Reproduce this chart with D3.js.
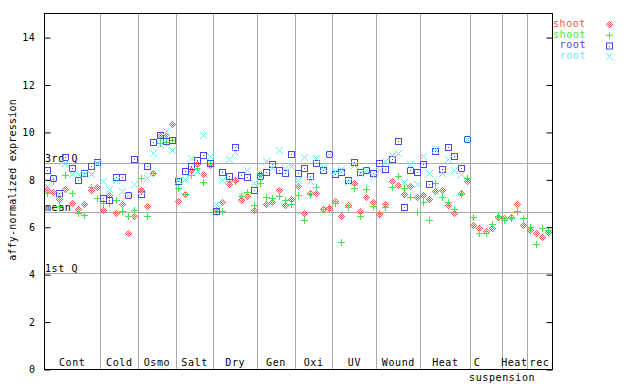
<!DOCTYPE html>
<html>
<head>
<meta charset="utf-8">
<script src="https://cdn.jsdelivr.net/npm/d3@7"></script>
<style>
  body { margin: 0; background: #fff; }
  text { font-family: "DejaVu Sans Mono", monospace; font-size: 10px; letter-spacing: 0.6px; }
</style>
</head>
<body>
<div id="chart"></div>
<script>
// groups along the x axis (number of samples in each)
var groupNames = ["Cont", "Cold", "Osmo", "Salt", "Dry", "Gen", "Oxi", "UV", "Wound", "Heat", "C suspension", "Heat", "rec"];
var groupSizes = [9, 6, 6, 6, 7, 6, 6, 7, 7, 8, 5, 4, 4];

var yTicks = [0, 2, 4, 6, 8, 10, 12, 14];

// reference lines
var refNames = ["3rd Q", "mean", "1st Q"];
var refValues = [8.675, 6.61, 4.06];

// series values, one per sample
var shootRed = [7.55, 7.45, 7.13, 7.58, 7.00, 6.71, 6.92, 7.55, 7.64,
  6.67, 7.33, 6.57, 6.96, 5.72, 6.42,
  7.55, 6.87, 8.25, 9.80, 9.91, 10.32,
  7.08, 7.38, 8.36, 8.64, 8.22, 8.6,
  6.7, 7.03, 7.79, 7.94, 7.11, 7.28, 6.69,
  8.22, 6.94, 7.03, 7.51, 6.90, 7.15,
  7.70, 6.56, 7.42, 7.42, 6.72, 6.78,
  7.06, 6.42, 6.90, 7.82, 6.66, 7.24, 7.04,
  6.52, 6.94, 7.89, 7.74, 7.37, 7.70, 7.24,
  7.32, 7.15, 7.49, 7.53, 6.90, 6.56, 7.42, 7.90,
  6.06, 5.93, 5.80, 5.93, 6.38,
  6.34, 6.40, 6.94, 6.06,
  5.83, 5.72, 5.55, 5.76];

var shootGreen = [7.40, 7.89, 6.85, 8.18, 7.41, 6.57, 6.48, 7.66, 7.21,
  6.98, 7.0, 7.11, 6.65, 6.42, 6.69,
  8.04, 6.42, 8.25, 9.52, 9.55, 9.64,
  7.62, 7.36, 8.18, 8.46, 7.87, 8.66,
  6.63, 6.63, 7.91, 7.93, 7.27, 7.46, 6.90,
  7.83, 7.24, 7.18, 7.27, 7.11, 6.96,
  7.32, 6.28, 7.35, 7.66, 6.72, 6.82,
  6.99, 5.34, 6.82, 7.62, 6.42, 7.58, 6.86,
  6.56, 6.82, 7.66, 8.11, 7.62, 7.24, 6.61,
  7.01, 6.28, 7.83, 7.24, 7.04, 6.73, 7.38, 8.04,
  6.40, 5.72, 5.72, 6.10, 6.42,
  6.28, 6.33, 6.66, 6.34,
  5.97, 5.26, 5.93, 5.86];

var rootBlue = [8.39, 8.04, 7.39, 8.93, 8.46, 7.94, 8.25, 8.54, 8.72,
  7.20, 7.11, 8.08, 8.08, 7.31, 8.84,
  7.37, 8.56, 9.54, 9.84, 9.59, 9.64,
  7.90, 8.35, 8.56, 8.81, 9.01, 8.67,
  6.66, 8.29, 8.11, 9.35, 8.17, 8.08, 7.55,
  8.11, 8.29, 8.63, 8.38, 8.25, 9.05,
  8.25, 8.46, 8.12, 8.67, 8.37, 9.05,
  8.22, 8.29, 7.96, 8.71, 8.28, 8.39, 8.25,
  8.67, 8.42, 8.84, 9.60, 6.82, 8.38, 8.29,
  8.63, 7.79, 9.16, 8.42, 9.35, 8.97, 8.46, 9.68];

var rootCyan = [7.69, 8.03, 7.38, 8.68, 8.22, 8.22, 8.2, 8.22, 8.67,
  7.91, 7.58, 7.96, 7.49, 7.3, 7.79,
  7.55, 8.04, 9.07, 9.45, 10.02, 9.22,
  7.95, 8.0, 8.88, 8.35, 9.83, 8.98,
  6.92, 7.94, 8.84, 9.14, 7.27, 8.39, 7.83,
  8.14, 8.76, 8.45, 9.22, 8.46, 8.53,
  7.96, 8.93, 7.89, 8.88, 8.52, 9.05,
  8.34, 8.42, 7.87, 8.57, 8.25, 8.36, 8.11,
  8.36, 8.74, 8.99, 9.09, 7.87, 8.64, 7.79,
  8.98, 8.25, 9.26, 8.25, 8.84, 8.36, 8.21, 9.68];

var seriesNames = ["shoot", "shoot", "root", "root"];

var svgWidth = 640;
var svgHeight = 384;
var margin = { top: 13.4, right: 88, bottom: 15, left: 44 };
var plotRight = svgWidth - margin.right;   // 552
var plotBottom = svgHeight - margin.bottom; // 369

var nSamples = d3.sum(groupSizes);

var svg = d3.select("#chart")
  .append("svg")
  .attr("width", svgWidth)
  .attr("height", svgHeight);

var x = d3.scaleLinear().domain([0, nSamples]).range([margin.left, plotRight]);
var y = d3.scaleLinear().domain([0, 15]).range([plotBottom, margin.top]);

var grey = "#aaaaaa";

// group boundaries
var bounds = [];
var acc = 0;
groupSizes.forEach(function(s) { acc += s; bounds.push(acc); });

svg.append("g").selectAll("line")
  .data(bounds.slice(0, -1))
  .enter()
  .append("line")
  .attr("x1", d => Math.round(x(d)) + 0.5)
  .attr("x2", d => Math.round(x(d)) + 0.5)
  .attr("y1", y(15))
  .attr("y2", plotBottom)
  .attr("stroke", grey);

// reference lines + labels
svg.append("g").selectAll("line")
  .data(refValues)
  .enter()
  .append("line")
  .attr("x1", margin.left)
  .attr("x2", plotRight)
  .attr("y1", d => Math.round(y(d)) + 0.5)
  .attr("y2", d => Math.round(y(d)) + 0.5)
  .attr("stroke", grey);

svg.append("g").selectAll("text")
  .data(refValues)
  .enter()
  .append("text")
  .attr("x", margin.left + 1)
  .attr("y", d => Math.round(y(d)) - 1)
  .text((d, i) => refNames[i]);

// pixel-style markers
function pixels(test) {
  var p = "";
  for (var dy = -3; dy <= 3; dy++) {
    for (var dx = -3; dx <= 3; dx++) {
      if (test(dx, dy)) p += "M" + dx + "," + dy + "h1v1h-1z";
    }
  }
  return p;
}
var shapes = [
  pixels((dx, dy) => { var m = Math.abs(dx) + Math.abs(dy); return m === 1 || m === 3; }),
  pixels((dx, dy) => dx === 0 || dy === 0),
  pixels((dx, dy) => Math.max(Math.abs(dx), Math.abs(dy)) === 3 || (dx === 0 && dy === 0)),
  pixels((dx, dy) => Math.abs(dx) === Math.abs(dy))
];
var colors = ["#ff5050", "#44e844", "#4848ec", "#66eeee"];
var allSeries = [shootRed, shootGreen, rootBlue, rootCyan];

allSeries.forEach(function(values, k) {
  svg.append("g").selectAll("path")
    .data(values)
    .enter()
    .append("path")
    .attr("d", shapes[k])
    .attr("fill", colors[k])
    .attr("transform", (d, i) => `translate(${Math.floor(x(i + 0.5))},${Math.floor(y(d))})`);
});

// frame
svg.append("rect")
  .attr("x", margin.left + 0.5)
  .attr("y", Math.round(y(15)) + 0.5)
  .attr("width", plotRight - margin.left)
  .attr("height", plotBottom - Math.round(y(15)))
  .attr("fill", "none")
  .attr("stroke", "black");

// y ticks on both sides
var leftAxis = d3.axisLeft(y).tickValues(yTicks).tickSize(-6).tickPadding(9);
svg.append("g")
  .attr("transform", `translate(${margin.left + 0.5},0.5)`)
  .call(leftAxis)
  .call(g => g.select(".domain").remove())
  .call(g => g.selectAll("text").style("font-family", "DejaVu Sans Mono").style("font-size", "10px").attr("fill", "#000"));

var rightAxis = d3.axisRight(y).tickValues(yTicks).tickSize(-6).tickFormat("");
svg.append("g")
  .attr("transform", `translate(${plotRight + 0.5},0.5)`)
  .call(rightAxis)
  .call(g => g.select(".domain").remove());

// y axis title
svg.append("text")
  .attr("transform", "rotate(-90)")
  .attr("x", -180)
  .attr("y", 16)
  .attr("text-anchor", "middle")
  .style("letter-spacing", "0.2px")
  .text("affy-normalized expression");

// group labels
var starts = [0].concat(bounds.slice(0, -1));
groupNames.forEach(function(name, i) {
  var cx = x(starts[i] + groupSizes[i] / 2);
  if (name === "C suspension") {
    svg.append("text").attr("x", cx - 9).attr("y", 366).attr("text-anchor", "middle").text("C");
    svg.append("text").attr("x", cx + 16).attr("y", 381).attr("text-anchor", "middle").text("suspension");
  } else {
    svg.append("text").attr("x", cx).attr("y", 366).attr("text-anchor", "middle").text(name);
  }
});

// legend
var legend = svg.append("g").selectAll("g")
  .data(seriesNames)
  .enter()
  .append("g")
  .attr("transform", (d, i) => `translate(0,${24 + i * 10.7})`);

legend.append("text")
  .attr("x", 586)
  .attr("y", 3)
  .attr("text-anchor", "end")
  .attr("fill", (d, i) => colors[i])
  .text(d => d);

legend.append("path")
  .attr("d", (d, i) => shapes[i])
  .attr("fill", (d, i) => colors[i])
  .attr("transform", "translate(609,0)");
</script>
</body>
</html>
